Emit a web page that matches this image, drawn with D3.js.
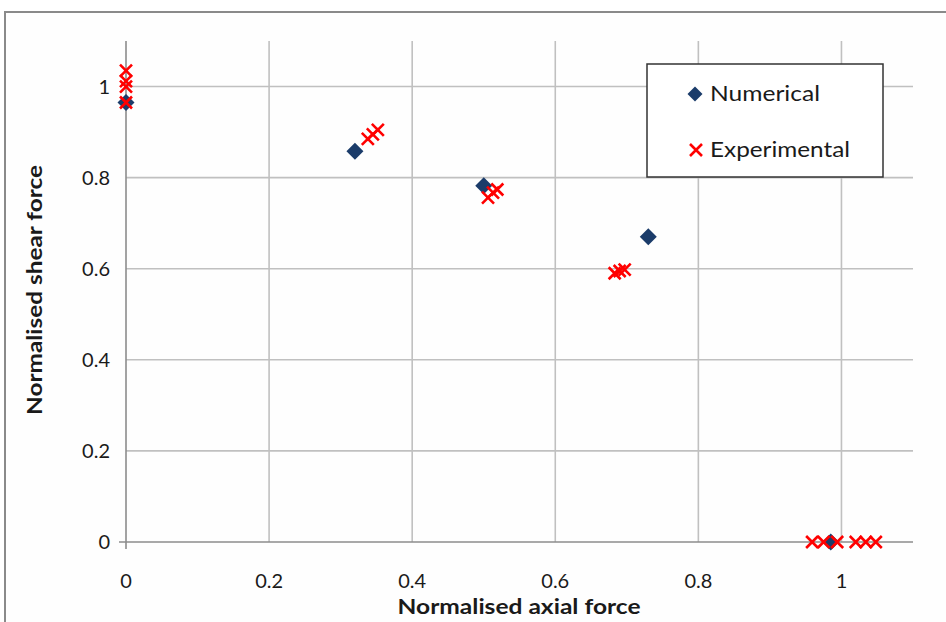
<!DOCTYPE html>
<html><head><meta charset="utf-8">
<script src="https://cdn.jsdelivr.net/npm/d3@7/dist/d3.min.js"></script>
<style>html,body{margin:0;padding:0;background:#fff;}svg{display:block;}text{font-family:Lato,"Open Sans",sans-serif;fill:#1a1a1a;}</style>
</head><body>
<svg id="c" width="946" height="622"></svg>
<script>
const xTicks = [0, 0.2, 0.4, 0.6, 0.8, 1];
const yTicks = [0, 0.2, 0.4, 0.6, 0.8, 1];
const xTickLabels = ["0", "0.2", "0.4", "0.6", "0.8", "1"];
const yTickLabels = ["0", "0.2", "0.4", "0.6", "0.8", "1"];
const numX = [0, 0.32, 0.50, 0.73, 0.985];
const numY = [0.965, 0.858, 0.782, 0.67, 0];
const expX = [0, 0, 0, 0, 0.338, 0.345, 0.352, 0.506, 0.513, 0.519, 0.683, 0.690, 0.697, 0.959, 0.975, 0.994, 1.020, 1.034, 1.048];
const expY = [1.035, 1.012, 1.0, 0.965, 0.885, 0.895, 0.905, 0.756, 0.767, 0.774, 0.590, 0.595, 0.598, 0, 0, 0, 0, 0, 0];
const seriesNames = ["Numerical", "Experimental"];
const xTitle = "Normalised axial force";
const yTitle = "Normalised shear force";

const svg = d3.select("#c");
const x = d3.scaleLinear().domain([0, 1.1]).range([126, 913]);
const y = d3.scaleLinear().domain([0, 1.1]).range([542, 41]);

// outer frame
svg.append("rect").attr("x", 5).attr("y", 12).attr("width", 960).attr("height", 640)
  .attr("fill", "#fefefe").attr("stroke", "#8a8a8a").attr("stroke-width", 2);

// gridlines
svg.append("g").selectAll("line").data(xTicks.filter(d => d > 0)).join("line")
  .attr("x1", d => x(d)).attr("x2", d => x(d)).attr("y1", y(1.1)).attr("y2", y(0))
  .attr("stroke", "#c0c0c0").attr("stroke-width", 1.6);
svg.append("g").selectAll("line").data(yTicks.filter(d => d > 0)).join("line")
  .attr("x1", x(0)).attr("x2", x(1.1)).attr("y1", d => y(d)).attr("y2", d => y(d))
  .attr("stroke", "#c0c0c0").attr("stroke-width", 1.6);

// axes lines
svg.append("line").attr("x1", x(0) - 7).attr("x2", x(1.1)).attr("y1", y(0)).attr("y2", y(0))
  .attr("stroke", "#8c8c8c").attr("stroke-width", 1.6);
svg.append("line").attr("x1", x(0)).attr("x2", x(0)).attr("y1", y(1.1)).attr("y2", y(0) + 7)
  .attr("stroke", "#8c8c8c").attr("stroke-width", 1.6);

// tick labels
svg.append("g").selectAll("text").data(xTicks).join("text")
  .attr("x", d => x(d)).attr("y", 588).attr("text-anchor", "middle")
  .attr("font-size", 20).text((d, i) => xTickLabels[i]);
svg.append("g").selectAll("text").data(yTicks).join("text")
  .attr("x", 110).attr("y", d => y(d) + 7).attr("text-anchor", "end")
  .attr("font-size", 20).text((d, i) => yTickLabels[i]);

// titles
svg.append("text").attr("x", 519).attr("y", 614).attr("text-anchor", "middle")
  .attr("font-size", 21).attr("font-weight", "bold")
  .attr("textLength", 243).attr("lengthAdjust", "spacingAndGlyphs").text(xTitle);
svg.append("text").attr("transform", "translate(42,290) rotate(-90)").attr("text-anchor", "middle")
  .attr("font-size", 21).attr("font-weight", "bold")
  .attr("textLength", 250).attr("lengthAdjust", "spacingAndGlyphs").text(yTitle);

// marks
const numColor = "#1b3c6a", expColor = "#ff0000";
const diamond = (cx, cy, r) => `M${cx},${cy - r}L${cx + r},${cy}L${cx},${cy + r}L${cx - r},${cy}Z`;
const cross = (cx, cy, r) => `M${cx - r},${cy - r}L${cx + r},${cy + r}M${cx - r},${cy + r}L${cx + r},${cy - r}`;

svg.append("g").selectAll("path").data(numX.map((d, i) => [d, numY[i]])).join("path")
  .attr("d", d => diamond(x(d[0]), y(d[1]), 8.5)).attr("fill", numColor);
svg.append("g").selectAll("path").data(expX.map((d, i) => [d, expY[i]])).join("path")
  .attr("d", d => cross(x(d[0]), y(d[1]), 6)).attr("stroke", expColor).attr("stroke-width", 2.6)
  .attr("fill", "none");

// legend
const lg = svg.append("g");
lg.append("rect").attr("x", 647).attr("y", 64).attr("width", 236).attr("height", 113)
  .attr("fill", "#fff").attr("stroke", "#333").attr("stroke-width", 1.5);
lg.append("path").attr("d", diamond(695, 94, 7.5)).attr("fill", numColor);
lg.append("path").attr("d", cross(696, 150, 6)).attr("stroke", expColor).attr("stroke-width", 2.6);
const legLen = [110, 140];
lg.selectAll("text.l").data(seriesNames).join("text").attr("class", "l")
  .attr("x", 710).attr("y", (d, i) => 101 + i * 56).attr("font-size", 22)
  .attr("textLength", (d, i) => legLen[i]).attr("lengthAdjust", "spacingAndGlyphs").text(d => d);
</script>
</body></html>
